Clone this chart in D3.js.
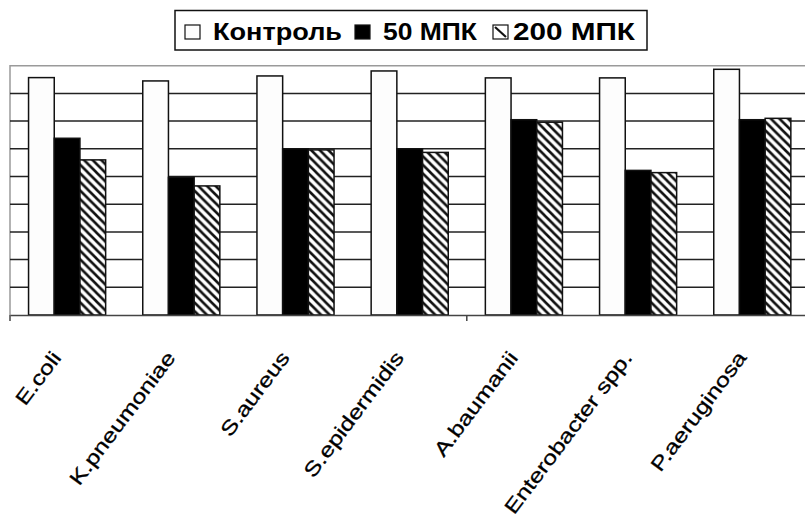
<!DOCTYPE html>
<html>
<head>
<meta charset="utf-8">
<script src="https://cdn.jsdelivr.net/npm/d3@7"></script>
<style>
body { margin: 0; background: #fff; }
svg { display: block; font-family: "Liberation Sans", Arial, sans-serif; }
</style>
</head>
<body>
<div id="chart"></div>
<script>
var width = 805, height = 531;

// данные
var categories = ["E.coli", "K.pneumoniae", "S.aureus", "S.epidermidis", "A.baumanii", "Enterobacter spp.", "P.aeruginosa"];
var series = ["Контроль", "50 МПК", "200 МПК"];
var control = [8.57, 8.45, 8.63, 8.81, 8.56, 8.56, 8.87];
var mic50 = [6.38, 4.97, 6.0, 6.0, 7.05, 5.22, 7.05];
var mic200 = [5.6, 4.66, 5.96, 5.87, 6.96, 5.14, 7.1];
var yTicks = [0, 1, 2, 3, 4, 5, 6, 7, 8, 9];

var values = [control, mic50, mic200];
var fills = ["#fdfdfd", "#000", "url(#hatch)"];

var plotLeft = 10, plotTop = 65.7, plotBottom = 315, step = 114.2;

var svg = d3.select("#chart").append("svg")
    .attr("width", width)
    .attr("height", height);

// штриховка
var pat = svg.append("defs").append("pattern")
    .attr("id", "hatch")
    .attr("patternUnits", "userSpaceOnUse")
    .attr("width", 8.6).attr("height", 8.6);
pat.append("rect").attr("width", 8.6).attr("height", 8.6).attr("fill", "#fff");
pat.append("path")
    .attr("d", "M-2.15,6.45 L2.15,10.75 M0,0 L8.6,8.6 M6.45,-2.15 L10.75,2.15")
    .attr("stroke", "#111")
    .attr("stroke-width", 2.6);

var x = d3.scaleBand()
    .domain(categories)
    .range([plotLeft, plotLeft + step * categories.length])
    .padding(0);

var x1 = d3.scaleBand()
    .domain(series)
    .range([0, x.bandwidth()])
    .paddingInner(0)
    .paddingOuter(0.722);

var y = d3.scaleLinear()
    .domain([0, 9])
    .range([plotBottom, plotTop]);

// рамка
svg.append("path")
    .attr("d", "M" + plotLeft + "," + plotBottom + "V" + plotTop + "H" + width)
    .attr("fill", "none")
    .attr("stroke", "#9a9a9a")
    .attr("stroke-width", 1.5);

// сетка
svg.append("g")
    .selectAll("line")
    .data(yTicks.filter(function(d) { return d > 0 && d < 9; }))
    .enter().append("line")
    .attr("x1", plotLeft).attr("x2", width)
    .attr("y1", function(d) { return y(d); })
    .attr("y2", function(d) { return y(d); })
    .attr("stroke", "#222")
    .attr("stroke-width", 1.5);

// столбцы
var groups = svg.append("g")
    .selectAll("g")
    .data(categories)
    .enter().append("g")
    .attr("transform", function(d) { return "translate(" + x(d) + ",0)"; });

groups.selectAll("rect")
    .data(function(d, i) {
        return series.map(function(s, j) { return { s: s, v: values[j][i], j: j }; });
    })
    .enter().append("rect")
    .attr("x", function(d) { return x1(d.s); })
    .attr("width", x1.bandwidth())
    .attr("y", function(d) { return y(d.v); })
    .attr("height", function(d) { return y(0) - y(d.v); })
    .attr("fill", function(d) { return fills[d.j]; })
    .attr("stroke", "#111")
    .attr("stroke-width", 1.5);

// ось X
var xAxis = d3.axisBottom(x)
    .tickSize(0)
    .tickFormat("");
svg.append("g")
    .attr("transform", "translate(0," + plotBottom + ")")
    .call(xAxis)
    .call(function(g) { g.select(".domain").attr("stroke", "#444").attr("stroke-width", 1.5); });

// засечки через 4 категории
svg.append("g")
    .selectAll("line")
    .data([0, 4])
    .enter().append("line")
    .attr("x1", function(d) { return plotLeft + d * step; })
    .attr("x2", function(d) { return plotLeft + d * step; })
    .attr("y1", plotBottom).attr("y2", plotBottom + 6)
    .attr("stroke", "#444")
    .attr("stroke-width", 1.5);

// подписи категорий
svg.append("g")
    .selectAll("text")
    .data(categories)
    .enter().append("text")
    .attr("transform", function(d) {
        return "translate(" + (x(d) + x.bandwidth() / 2 - 5) + "," + 358 + ") rotate(-53)";
    })
    .attr("text-anchor", "end")
    .attr("font-size", 20)
    .attr("fill", "#000")
    .attr("stroke", "#000")
    .attr("stroke-width", 0.3)
    .text(function(d) { return d; })
    .each(function() {
        var w = this.getComputedTextLength();
        d3.select(this).attr("textLength", w * 1.25).attr("lengthAdjust", "spacingAndGlyphs");
    });

// легенда
var legend = svg.append("g");
legend.append("rect")
    .attr("x", 175).attr("y", 10.5)
    .attr("width", 472).attr("height", 39.5)
    .attr("fill", "#fff")
    .attr("stroke", "#111")
    .attr("stroke-width", 1.5);

var legX = [185, 355, 493];
var legTextX = [213, 383, 513];
var legW = [129, 94, 122];
series.forEach(function(s, i) {
    legend.append("rect")
        .attr("x", legX[i]).attr("y", 25)
        .attr("width", 15).attr("height", 14)
        .attr("fill", i == 2 ? "#fff" : fills[i])
        .attr("stroke", "#111")
        .attr("stroke-width", 1.2);
    if (i == 2) {
        legend.append("line")
            .attr("x1", legX[i] + 2).attr("y1", 27)
            .attr("x2", legX[i] + 13).attr("y2", 37)
            .attr("stroke", "#111").attr("stroke-width", 2.2);
    }
    legend.append("text")
        .attr("x", legTextX[i]).attr("y", 39.5)
        .attr("font-size", 23)
        .attr("font-weight", "bold")
        .attr("textLength", legW[i])
        .attr("lengthAdjust", "spacingAndGlyphs")
        .text(s);
});
</script>
</body>
</html>
